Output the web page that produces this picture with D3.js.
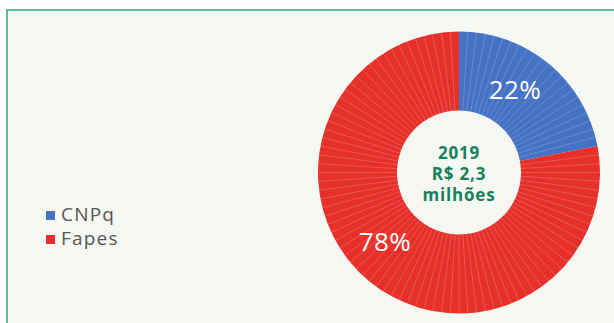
<!DOCTYPE html>
<html><head><meta charset="utf-8">
<script src="https://cdn.jsdelivr.net/npm/d3@7"></script>
<style>html,body{margin:0;padding:0;background:#fff;}svg{display:block;}</style>
</head><body>
<svg id="c" width="614" height="323"></svg>
<script>
const categories = ["CNPq", "Fapes"];
const values = [22, 78];
const colors = ["#4472c4", "#e7302a"];
const labels = ["22%", "78%"];
const centerLines = ["2019", "R$ 2,3", "milhões"];

const svg = d3.select("#c");
svg.append("rect").attr("x", 7).attr("y", 10).attr("width", 620).attr("height", 330)
  .attr("fill", "#f6f8f4").attr("stroke", "#44a88a").attr("stroke-width", 1.6);

const cx = 459, cy = 172.5, R = 141, r = 62;
const g = svg.append("g").attr("transform", `translate(${cx},${cy})`);
const pie = d3.pie().sort(null).value(d => d);
const arcs = pie(values);
const arc = d3.arc().innerRadius(r).outerRadius(R);

arcs.forEach((a, i) => {
  g.append("path").attr("d", arc(a)).attr("fill", colors[i]);
  // thin subdivisions, one per percent
  const n = values[i];
  const step = (a.endAngle - a.startAngle) / n;
  for (let k = 1; k < n; k++) {
    const ang = a.startAngle + k * step;
    g.append("line")
      .attr("x1", r * Math.sin(ang)).attr("y1", -r * Math.cos(ang))
      .attr("x2", R * Math.sin(ang)).attr("y2", -R * Math.cos(ang))
      .attr("stroke", "#ffffff").attr("stroke-opacity", 0.3).attr("stroke-width", 0.6);
  }
});

// percentage labels
const lblPos = [[515, 99], [385, 251]];
labels.forEach((t, i) => {
  svg.append("text").attr("x", lblPos[i][0]).attr("y", lblPos[i][1])
    .attr("text-anchor", "middle").attr("fill", "#fff")
    .attr("font-family", "'Open Sans', sans-serif").attr("font-size", 26)
    .attr("letter-spacing", 0.5)
    .text(t);
});

// center text
centerLines.forEach((t, i) => {
  svg.append("text").attr("x", cx).attr("y", 159 + i * 21)
    .attr("text-anchor", "middle").attr("fill", "#17805a")
    .attr("font-family", "'Open Sans', sans-serif").attr("font-weight", "bold")
    .attr("font-size", 17).attr("letter-spacing", 0.8).text(t);
});

// legend
categories.forEach((c, i) => {
  const y = 221 + i * 24;
  svg.append("rect").attr("x", 46).attr("y", y - 10).attr("width", 9).attr("height", 9).attr("fill", colors[i]);
  svg.append("text").attr("x", 61).attr("y", y).attr("fill", "#555")
    .attr("font-family", "'Open Sans', sans-serif").attr("font-size", 19)
    .attr("letter-spacing", 1.2).text(c);
});
</script>
</body></html>
